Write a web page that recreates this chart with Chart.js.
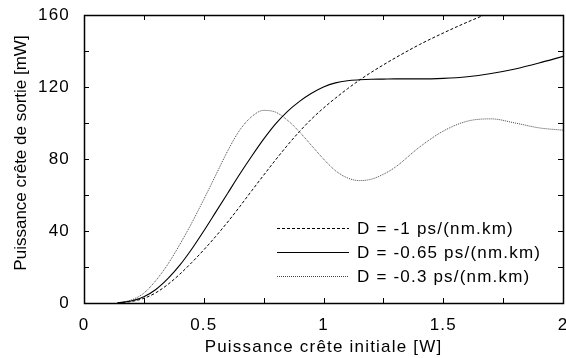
<!DOCTYPE html>
<html>
<head>
<meta charset="utf-8">
<script src="https://cdn.jsdelivr.net/npm/chart.js@4.4.1/dist/chart.umd.min.js"></script>
<style>
  body { margin: 0; background: #fff; }
  canvas { display: block; }
</style>
</head>
<body>
<canvas id="chart" width="566" height="358"></canvas>
<script>
// initial peak power (W)
const powerIn = [0.14, 0.2, 0.25, 0.3, 0.35, 0.4, 0.45, 0.5, 0.55, 0.6, 0.65, 0.7, 0.75, 0.8, 0.85, 0.9, 0.95,
  1.0, 1.05, 1.1, 1.15, 1.2, 1.25, 1.3, 1.4, 1.5, 1.6, 1.7, 1.8, 1.9, 2.0];

// output peak power (mW) for each dispersion value
const outD1 = [0, 0.9, 2.6, 5.7, 10.3, 16, 22.5, 29.5, 37, 45, 53.5, 62.3, 71, 79.5, 87.7, 95.3, 102.2,
  108.3, 113.8, 119, 123.8, 128.2, 132.3, 136.2, 143.5, 150, 156, 161.5, 166.5, 171, 175];
const outD065 = [0, 1.2, 3.5, 7.5, 13.5, 21, 30, 40, 50.5, 61, 71.5, 81.5, 91, 99.5, 106.5, 112, 116.5,
  120, 122.3, 123.5, 124, 124.3, 124.4, 124.5, 124.5, 124.8, 125.7, 127.5, 130, 133.3, 137];
const outD03 = [0, 1.8, 5.5, 12.5, 21.5, 32.5, 44.5, 57.5, 71, 84.5, 96, 103.5, 107, 106, 101.5, 95, 87.5,
  80, 73.5, 69.5, 68, 68.8, 71.5, 75.5, 86.5, 95.5, 101, 102.3, 100, 97.3, 96];

const labels = ["D = -1 ps/(nm.km)", "D = -0.65 ps/(nm.km)", "D = -0.3 ps/(nm.km)"];

const xTicks = [0, 0.5, 1, 1.5, 2];
const yTicks = [0, 40, 80, 120, 160];

const FONT = { family: "'Liberation Sans', Arial, sans-serif", size: 17 };
const SPACING = '1.2px';

function toPoints(ys) {
  return powerIn.map((x, i) => ({ x: x, y: ys[i] }));
}

function line(label, ys, color, dash, width) {
  return {
    label: label,
    data: toPoints(ys),
    borderColor: color,
    borderWidth: width,
    borderDash: dash,
    pointRadius: 0,
    fill: false,
    cubicInterpolationMode: 'monotone'
  };
}

// frame, inward ticks, y title and legend drawn like the original figure
const framePlugin = {
  id: 'frame',
  beforeUpdate(chart) { chart.ctx.letterSpacing = SPACING; },
  beforeDraw(chart) { chart.ctx.letterSpacing = SPACING; },
  afterDraw(chart) {
    const ctx = chart.ctx;
    const a = chart.chartArea;
    const xs = chart.scales.x, ys = chart.scales.y;
    ctx.save();
    ctx.strokeStyle = '#000';
    ctx.lineWidth = 1;
    ctx.beginPath();
    for (let v = 0; v <= 2.0001; v += 0.25) {
      const px = Math.round(xs.getPixelForValue(v)) + 0.5;
      ctx.moveTo(px, a.bottom); ctx.lineTo(px, a.bottom - 5);
      ctx.moveTo(px, a.top); ctx.lineTo(px, a.top + 5);
    }
    for (let v = 0; v <= 160; v += 20) {
      const py = Math.round(ys.getPixelForValue(v)) + 0.5;
      ctx.moveTo(a.left, py); ctx.lineTo(a.left + 5, py);
      ctx.moveTo(a.right, py); ctx.lineTo(a.right - 5, py);
    }
    ctx.stroke();
    ctx.lineWidth = 1.5;
    ctx.strokeRect(Math.round(a.left) + 0.5, Math.round(a.top) + 0.5,
      Math.round(a.right - a.left), Math.round(a.bottom - a.top));

    ctx.font = FONT.size + "px " + FONT.family;
    ctx.fillStyle = '#000';

    // y title (vertical text, not stretched)
    ctx.save();
    ctx.letterSpacing = '0px';
    ctx.translate(21, 153);
    ctx.rotate(-Math.PI / 2);
    ctx.textAlign = 'center';
    ctx.textBaseline = 'middle';
    ctx.fillText('Puissance crête de sortie [mW]', 0, 0);
    ctx.restore();

    // legend
    const rows = [228, 252, 276];
    ctx.textBaseline = 'middle';
    chart.data.datasets.forEach((ds, i) => {
      ctx.beginPath();
      ctx.strokeStyle = ds.borderColor;
      ctx.lineWidth = ds.borderWidth;
      ctx.setLineDash(ds.borderDash);
      ctx.moveTo(277, rows[i] + 0.5);
      ctx.lineTo(349, rows[i] + 0.5);
      ctx.stroke();
      ctx.setLineDash([]);
      ctx.fillText(ds.label, 357, rows[i] + 1);
    });
    ctx.restore();
  }
};

new Chart(document.getElementById('chart'), {
  type: 'line',
  data: {
    datasets: [
      line(labels[0], outD1, '#000', [3, 2], 1),
      line(labels[1], outD065, '#000', [], 1.1),
      line(labels[2], outD03, '#444', [1, 1], 1)
    ]
  },
  options: {
    responsive: false,
    animation: false,
    layout: { padding: { top: 15, right: 3, left: 0, bottom: 0 } },
    plugins: { legend: { display: false }, tooltip: { enabled: false } },
    scales: {
      x: {
        type: 'linear',
        min: 0, max: 2,
        grid: { display: false },
        border: { display: false },
        ticks: {
          stepSize: 0.5,
          color: '#000',
          font: FONT,
          padding: 4,
          maxRotation: 0,
          callback: v => xTicks.includes(v) ? String(v) : ''
        },
        title: {
          display: true,
          text: 'Puissance crête initiale [W]',
          color: '#000',
          font: FONT,
          padding: { top: 0, bottom: 0 }
        },
        afterFit(s) { s.height = 55; s.paddingLeft = 0; s.paddingRight = 0; }
      },
      y: {
        min: 0, max: 160,
        grid: { display: false },
        border: { display: false },
        ticks: {
          stepSize: 40,
          color: '#000',
          font: FONT,
          padding: 6,
          callback: v => yTicks.includes(v) ? String(v) : ''
        },
        afterFit(s) { s.width = 84; s.paddingTop = 0; s.paddingBottom = 0; }
      }
    }
  },
  plugins: [framePlugin]
});
</script>
</body>
</html>
